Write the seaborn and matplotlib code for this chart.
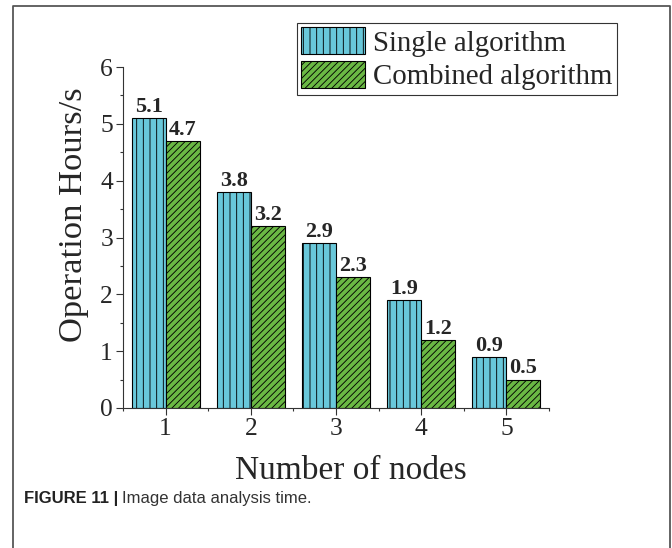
import matplotlib
matplotlib.use("Agg")
import matplotlib.pyplot as plt
import seaborn as sns
import pandas as pd
from matplotlib.patches import Patch
from matplotlib.lines import Line2D
from matplotlib.ticker import MultipleLocator, FixedLocator

nodes = ["1", "2", "3", "4", "5"]
single = [5.1, 3.8, 2.9, 1.9, 0.9]
combined = [4.7, 3.2, 2.3, 1.2, 0.5]
series_names = ["Single algorithm", "Combined algorithm"]
colors = ["#69c8da", "#6ab844"]
hatches = ["||", "////"]

df = pd.DataFrame({
    "nodes": nodes * 2,
    "value": single + combined,
    "algorithm": [series_names[0]] * 5 + [series_names[1]] * 5,
})

sns.set_style("ticks")
plt.rcParams["font.family"] = ["Liberation Serif", "DejaVu Serif"]
plt.rcParams["hatch.linewidth"] = 0.8
plt.rcParams["hatch.color"] = "black"

DPI = 80
fig = plt.figure(figsize=(672 / DPI, 548 / DPI), dpi=DPI)
ax = fig.add_axes([123 / 672, 1 - 408 / 548, (549 - 123) / 672, (408 - 67) / 548])

sns.barplot(data=df, x="nodes", y="value", hue="algorithm", order=nodes,
            hue_order=series_names, palette=colors, edgecolor="black",
            linewidth=1.0, width=0.8, saturation=1, ax=ax, legend=False)

for cont, h in zip(ax.containers, hatches):
    for bar in cont:
        bar.set_hatch(h)
    ax.bar_label(cont, fmt="%.1f", padding=1, fontsize=20, fontweight="bold")

ax.set_xlim(-0.5, 4.5)
ax.set_ylim(0, 6)
ax.yaxis.set_major_locator(MultipleLocator(1))
ax.yaxis.set_minor_locator(MultipleLocator(0.5))
ax.xaxis.set_minor_locator(FixedLocator([-0.5, 0.5, 1.5, 2.5, 3.5, 4.5]))
ax.tick_params(axis="both", which="major", length=6, width=1, labelsize=23,
               direction="out", color="#333333", pad=3)
ax.tick_params(axis="both", which="minor", length=3, width=1, direction="out", color="#333333")
for s in ["left", "bottom"]:
    ax.spines[s].set_linewidth(1.0)
    ax.spines[s].set_color("#333333")
sns.despine(ax=ax)

ax.set_xlabel("Number of nodes", fontsize=30)
ax.set_ylabel("Operation Hours/s", fontsize=31)
ax.xaxis.set_label_coords(0.535, -0.14)
ax.yaxis.set_label_coords(-0.08, 0.566)

handles = [Patch(facecolor=c, edgecolor="black", hatch=h, linewidth=1.0) for c, h in zip(colors, hatches)]
leg = fig.legend(handles, series_names, loc="upper left",
                 bbox_to_anchor=(297 / 672, 1 - 23 / 548), fontsize=26,
                 frameon=True, fancybox=False, framealpha=1, edgecolor="#333333",
                 handlelength=2.2, handleheight=1.05, handletextpad=0.28,
                 borderpad=0.15, labelspacing=0.15, borderaxespad=0)
leg.get_frame().set_linewidth(1.0)

# outer figure frame
fig.add_artist(Line2D([13 / 672, 13 / 672, 670 / 672, 670 / 672],
                      [0, 1 - 6 / 548, 1 - 6 / 548, 0],
                      transform=fig.transFigure, color="#555555", lw=1.6))

cap_family = ["Liberation Sans Narrow", "Liberation Sans", "DejaVu Sans"]
t1 = fig.text(24 / 672, 1 - 498 / 548, "FIGURE 11 |", fontsize=15, fontweight="bold",
              family=cap_family, va="center", ha="left", color="#222222")
fig.canvas.draw()
bb = t1.get_window_extent(renderer=fig.canvas.get_renderer())
x2 = (bb.x1 + 4) / fig.bbox.width
fig.text(x2, 1 - 498 / 548, "Image data analysis time.", fontsize=15,
         family=cap_family, va="center", ha="left", color="#333333")

fig.savefig("out.png", dpi=DPI)
